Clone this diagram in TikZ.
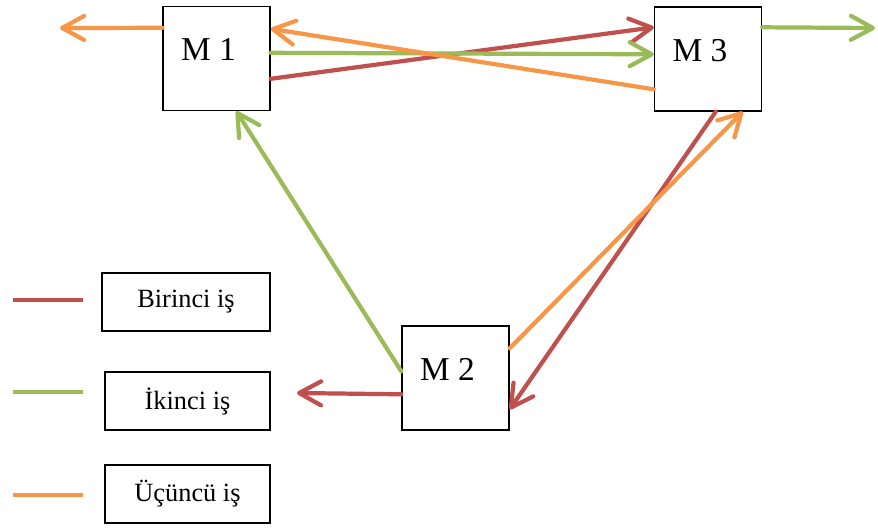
\documentclass[tikz,border=0pt]{standalone}
\usepackage{fontspec}
\setmainfont{Liberation Serif}
\usetikzlibrary{arrows.meta,calc}

\definecolor{isred}{HTML}{C0504D}
\definecolor{isgreen}{HTML}{9BBB59}
\definecolor{isorange}{HTML}{F79646}

\tikzset{
  mbox/.style={draw, thick, fill=white, minimum width=2.14cm, minimum height=2.08cm,
    execute at end node=\hspace*{0.32cm}, text depth=0.36cm, font=\fontsize{19}{22}\selectfont},
  legbox/.style={draw, thick, minimum width=3.3cm, minimum height=1.16cm, font=\fontsize{15}{18}\selectfont},
  flow/.style={line width=2.4pt, line cap=round, -{Straight Barb[length=4.4mm,width=4.8mm,round]}},
  legline/.style={line width=2.4pt}
}

\begin{document}
\begin{tikzpicture}[x=0.02cm, y=-0.02cm]
 \useasboundingbox (0,0) rectangle (878,527);
 % machines
 \node[mbox] (m1) at (216.5,58.5) {M 1};
 \node[mbox] (m3) at (708,59) {M 3};
 \node[mbox] (m2) at (455.5,378) {M 2};
 % legend
 \node[legbox, minimum width=3.36cm] (birinci) at (186,302) {Birinci iş};
 \node[legbox] (ikinci) at (187.5,401) {İkinci iş};
 \node[legbox] (ucuncu) at (187.5,494) {Üçüncü iş};
 \draw[legline, isred] (13,300) -- (83,300);
 \draw[legline, isgreen] (13,392) -- (83,392);
 \draw[legline, isorange] (13,495) -- (83,495);
 % free ends
 \coordinate (out1) at (60,28);
 \coordinate (out3) at (875,28);
 \coordinate (out2) at (297,393);
 % first job
 \draw[flow, isred] ($(m2.north west)+(0,69)$) -- (out2);
 \draw[flow, isred] ($(m3.south west)+(62,0)$) -- ($(m2.north east)+(0,84)$);
 \draw[flow, isred] ($(m1.north east)+(0,73)$) -- ($(m3.north west)+(0,21)$);
 % second job
 \draw[flow, isgreen] ($(m2.north west)+(0,46)$) -- ($(m1.south west)+(74,0)$);
 \draw[flow, isgreen] ($(m1.north east)+(0,47)$) -- ($(m3.north west)+(0,48)$);
 \draw[flow, isgreen] ($(m3.north east)+(0,21)$) -- (out3);
 % third job
 \draw[flow, isorange] ($(m2.north east)+(0,23)$) -- ($(m3.south west)+(89,0)$);
 \draw[flow, isorange] ($(m3.north west)+(0,83)$) -- ($(m1.north east)+(0,23)$);
 \draw[flow, isorange] ($(m1.north west)+(0,22)$) -- (out1);
\end{tikzpicture}
\end{document}
